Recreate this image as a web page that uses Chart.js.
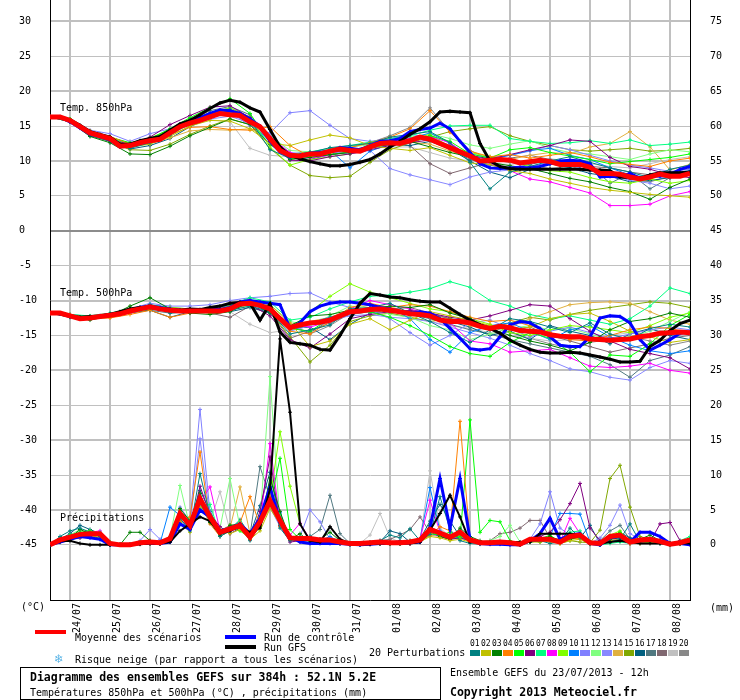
<!DOCTYPE html>
<html>
<head>
<meta charset="utf-8">
<script src="https://cdn.jsdelivr.net/npm/chart.js@4.4.1/dist/chart.umd.min.js"></script>
<style>
  body { margin: 0; background: #fff; }
  #wrap { position: relative; width: 740px; height: 700px; font-family: "DejaVu Sans Mono", monospace; font-size: 10px; color: #000; }
  #c { position: absolute; left: 0; top: 0; }
  .t { position: absolute; white-space: pre; line-height: 10px; }
  .b { font-weight: bold; font-size: 11.5px; line-height: 12px; }
  .bar { position: absolute; width: 31px; height: 4px; }
  .sw { position: absolute; width: 10px; height: 6px; top: 650px; }
  .num { position: absolute; top: 640px; font-size: 8px; line-height: 8px; }
  #box { position: absolute; left: 20px; top: 667px; width: 419px; height: 31px; border: 1px solid #000; }
</style>
</head>
<body>
<div id="wrap">
  <canvas id="c" width="740" height="700"></canvas>
  <div class="t" style="left:60px;top:103px">Temp. 850hPa</div>
  <div class="t" style="left:60px;top:288px">Temp. 500hPa</div>
  <div class="t" style="left:60px;top:513px">Précipitations</div>
  <div class="t" style="left:21px;top:602px">(°C)</div>
  <div class="t" style="left:710px;top:603px">(mm)</div>
  <div class="bar" style="left:35px;top:630px;background:#ff0000"></div>
  <div class="t" style="left:75px;top:633px">Moyenne des scénarios</div>
  <div class="bar" style="left:225px;top:635px;background:#0000ff"></div>
  <div class="t" style="left:264px;top:633px">Run de contrôle</div>
  <div class="bar" style="left:225px;top:645px;background:#000000"></div>
  <div class="t" style="left:264px;top:643px">Run GFS</div>
  <div class="t" style="left:55px;top:652px;font-size:13px;line-height:13px;color:#5ab4e6">❄</div>
  <div class="t" style="left:75px;top:655px">Risque neige (par rapport a tous les scénarios)</div>
  <div class="t" style="left:369px;top:648px">20 Perturbations</div>
  <div id="box"></div>
  <div class="t b" style="left:30px;top:671px">Diagramme des ensembles GEFS sur 384h : 52.1N 5.2E</div>
  <div class="t" style="left:30px;top:688px">Températures 850hPa et 500hPa (°C) , précipitations (mm)</div>
  <div class="t" style="left:450px;top:668px">Ensemble GEFS du 23/07/2013 - 12h</div>
  <div class="t b" style="left:450px;top:686px">Copyright 2013 Meteociel.fr</div>
</div>
<script>
// run of 23/07/2013 12h, one point every 6h up to 384h (65 points)
const DATES = ['24/07','25/07','26/07','27/07','28/07','29/07','30/07','31/07','01/08','02/08','03/08','04/08','05/08','06/08','07/08','08/08'];
const LEFT_TICKS = [30,25,20,15,10,5,0,-5,-10,-15,-20,-25,-30,-35,-40,-45];
const RIGHT_TICKS = [75,70,65,60,55,50,45,40,35,30,25,20,15,10,5,0];
const MEMBER_COLORS = ['#008080','#c0c000','#008000','#ff8000','#00ff00','#800080','#00ff80','#ff00ff','#80ff00','#0080ff',
                       '#8080ff','#80ff80','#8888ff','#e0b040','#80a800','#006080','#507880','#806870','#c0c0c0','#888888'];

// 850 hPa temperature, 6-hourly
const MEAN_850 = [16.3,16.3,15.8,14.9,14.0,13.6,13.2,12.1, 12.2,12.6,12.9,13.1,14.0,14.9,15.4,15.8, 16.3,16.8,16.6,16.5,15.6,14.9,13.2,11.5,
  10.8,10.7,11.0,11.0,11.4,11.7,11.5,11.4, 12.0,12.5,12.6,12.5,12.9,13.4,13.1,12.5, 11.9,11.3,10.7,10.0,10.1,10.2,10.1,9.7,
  9.9,10.1,9.9,9.5,9.5,9.5,9.1,8.2, 8.2,8.1,7.7,7.4,7.7,8.1,7.8,7.8, 8.2];
const CTRL_850 = [16.3,16.3,15.6,14.7,13.8,13.5,13.0,12.0, 12.3,12.8,13.0,13.2,14.2,15.0,15.6,16.2, 16.8,17.3,17.2,16.8,16.0,15.0,12.8,11.3,
  10.6,10.8,11.1,11.2,11.4,11.9,11.8,11.6, 12.2,12.8,12.9,13.2,14.2,14.5,14.7,15.4, 14.6,12.8,11.2,9.6,9.0,8.9,9.0,9.1,
  9.0,9.2,9.6,10.0,10.1,10.0,9.6,7.7, 7.8,7.7,8.2,7.5,7.9,7.8,8.0,8.8, 9.2];
const GFS_850 = [16.3,16.3,15.9,15.1,14.2,13.8,13.4,12.4, 12.4,12.9,13.2,13.5,14.4,15.3,15.8,16.6, 17.5,18.3,18.7,18.4,17.6,17.0,14.5,12.0,
  10.8,10.3,9.9,9.6,9.3,9.3,9.5,9.8, 10.2,11.0,12.0,12.8,13.8,14.6,15.6,17.0, 17.1,17.0,16.9,12.5,10.0,9.2,8.9,8.8,
  8.8,8.8,8.8,8.8,8.8,8.8,8.7,8.7, 8.6,7.7,7.6,7.5,8.0,8.3,8.3,8.3, 8.4];

// 500 hPa temperature, 6-hourly
const MEAN_500 = [-11.8,-11.8,-12.2,-12.6,-12.5,-12.3,-12.1,-11.9, -11.5,-11.2,-10.9,-11.2,-11.4,-11.5,-11.5,-11.5,
  -11.5,-11.5,-11.2,-10.5,-10.4,-10.7,-11.2,-12.6, -13.9,-13.5,-13.2,-13.1,-12.8,-12.2,-11.6,-11.5,
  -11.3,-11.2,-11.4,-11.6,-11.9,-12.0,-12.2,-12.8, -13.0,-13.0,-13.2,-13.7,-14.0,-13.7,-13.9,-14.3,
  -14.4,-14.5,-14.9,-15.1,-15.2,-15.2,-15.5,-15.6, -15.7,-15.6,-15.5,-15.2,-15.0,-14.7,-14.6,-14.5, -14.6];
const CTRL_500 = [-11.8,-11.9,-12.3,-12.6,-12.4,-12.2,-12.0,-11.8, -11.4,-11.0,-10.8,-11.0,-11.2,-11.4,-11.5,-11.4,
  -11.2,-11.3,-11.0,-10.2,-10.0,-10.2,-10.4,-10.6, -14.0,-13.2,-11.6,-10.8,-10.4,-10.2,-10.2,-10.4,
  -10.6,-11.0,-11.2,-11.6,-11.8,-11.6,-11.8,-12.6, -14.0,-15.4,-16.9,-17.1,-16.9,-15.2,-13.5,-13.0,
  -13.2,-14.0,-15.2,-16.4,-16.6,-16.6,-15.2,-12.5, -12.2,-12.3,-13.2,-15.6,-17.1,-16.4,-15.6,-14.7, -14.5];
const GFS_500 = [-11.8,-11.8,-12.2,-12.4,-12.3,-12.2,-12.0,-11.6, -11.2,-11.0,-11.0,-11.2,-11.3,-11.4,-11.2,-11.3,
  -11.0,-10.8,-10.4,-10.3,-10.4,-12.8,-10.5,-14.5, -16.0,-16.2,-16.4,-17.0,-17.1,-15.0,-12.6,-10.4,
  -9.0,-9.2,-9.5,-9.6,-9.9,-10.1,-10.2,-10.2, -11.1,-12.0,-12.8,-13.5,-14.0,-14.7,-15.7,-16.4,
  -17.0,-17.4,-17.5,-17.5,-17.4,-17.5,-17.8,-18.1, -18.4,-18.8,-18.8,-18.7,-16.6,-15.7,-14.3,-13.3, -12.8];

// precipitation (mm), 6-hourly
const MEAN_RR = [0,.7,1.1,1.5,1.6,1.6,.2,0, 0,.3,.4,.3,.9,4.5,2.8,6.6, 4,1.8,2.3,2.8,1.1,3.3,6.3,3.5, 1,.9,.9,.7,.7,.4,.2,.2,
  .3,.4,.3,.3,.4,.7,2.2,1.7, 1.1,1.8,.7,.3,.3,.4,.3,.1, .8,.8,.8,.4,1.2,1.4,.3,.2, 1.2,1.4,.4,.7,.8,.5,.1,.3, .7];
const CTRL_RR = [0,.4,.8,1.2,1,.8,0,0, 0,.2,.2,.2,.4,3,2.2,5, 4,2,2.4,3,1.6,3.8,8.3,3.2, 1.2,.4,.2,.2,.2,.2,.1,0,
  .1,.2,.2,.2,.3,.4,2.4,9.5, 2.4,9.5,.8,.2,.1,.1,0,0, .6,1.6,3.8,.8,1.4,1.6,.2,0, 1,1.2,.4,1.8,1.8,1.2,.2,.2, 0];
const GFS_RR = [0,.5,.6,.2,0,0,0,0, 0,.1,.2,.2,.4,2,3,4, 3.4,1.6,2,2.6,1.8,2.4,8,29.5, 19,3,.6,.4,2.6,.8,.2,.1,
  .1,.2,.2,.2,.2,.4,2.1,4.5, 7.1,4,.4,.4,.4,.4,.4,.4, .4,1.6,1.6,1.6,1.6,1.4,.4,.2, .4,.6,.4,.2,.2,.2,.2,.2, .2];

// 20 perturbations, 850 hPa, 12-hourly
const PERT_850 = [
  [16.3,15.7,13.8,13.0,11.8,12.6,13.7,15.4,16.8,17.4,15.9,11.6,10.4,11.2,11.9,12.2,12.5,13.4,13.8,14.2,12.6,9.8,6.0,8.4,9.2,10.0,10.6,9.8,9.0,8.4,7.6,8.8,9.4],
  [16.3,15.9,14.2,13.3,12.0,12.4,13.5,15.0,15.8,15.7,14.6,12.5,12.2,13.0,13.7,13.3,12.2,11.8,11.5,11.9,10.8,9.7,9.5,8.6,8.2,7.4,6.8,6.2,5.8,5.5,5.2,5.0,4.8],
  [16.3,15.6,13.5,12.6,11.0,10.9,12.1,13.6,14.8,16.0,15.2,12.4,10.2,10.5,10.9,11.2,11.8,12.4,12.8,12.0,11.2,10.6,9.8,9.3,8.9,8.2,7.5,7.0,6.2,5.6,4.5,6.2,7.4],
  [16.3,15.9,14.3,13.5,12.4,13.0,13.8,14.8,14.9,14.5,14.4,14.9,12.2,10.6,11.3,11.9,12.6,13.4,14.6,17.2,14.1,11.4,10.6,10.9,10.4,10.8,11.2,10.6,9.8,9.5,9.2,10.0,10.4],
  [16.3,16.0,14.1,13.4,12.6,13.2,14.6,16.2,17.6,18.9,16.8,12.6,10.3,10.7,10.9,11.3,12.0,12.4,12.8,13.6,12.8,11.0,10.4,11.6,11.9,11.2,10.7,10.2,9.6,9.9,10.2,10.5,11.0],
  [16.3,15.8,14.0,13.1,12.3,13.4,15.2,16.5,17.7,17.9,16.2,12.9,10.1,10.0,10.6,11.0,11.6,12.2,12.6,13.0,12.0,10.8,10.3,10.9,11.6,12.2,13.0,12.8,10.5,9.2,8.8,8.0,7.6],
  [16.3,15.9,14.2,13.3,12.4,13.1,14.2,15.6,16.6,17.2,15.6,12.4,10.9,11.3,11.8,12.2,12.7,13.2,13.6,14.4,15.0,15.1,15.1,13.2,12.8,12.5,12.6,12.9,12.5,13.0,12.2,12.4,12.7],
  [16.3,15.7,13.9,13.2,12.3,13.0,13.9,15.6,16.4,17.2,15.8,13.5,11.2,10.4,10.8,11.4,12.0,12.8,13.2,13.5,12.6,10.6,9.6,8.6,7.4,7.0,6.2,5.4,3.6,3.6,3.8,5.0,5.6],
  [16.3,16.0,14.2,13.4,12.5,13.3,14.4,15.8,16.8,17.6,16.2,12.0,9.4,10.2,10.6,11.0,11.9,12.5,13.0,13.8,12.0,11.2,10.6,10.0,9.2,8.6,8.4,7.6,7.0,6.8,7.4,6.8,7.2],
  [16.3,15.6,13.7,12.9,11.9,12.8,14.1,15.6,16.5,17.0,15.5,12.8,11.0,11.2,11.5,9.0,11.4,12.4,13.2,14.0,12.5,10.7,10.2,10.8,11.5,11.8,10.8,10.2,9.0,8.0,7.6,8.2,8.6],
  [16.3,16.0,14.4,13.9,12.8,13.9,14.6,15.8,16.6,17.0,15.0,14.0,16.9,17.2,15.1,13.2,12.8,13.2,13.8,13.4,12.2,11.0,10.5,10.8,11.4,12.2,11.6,10.8,10.0,9.4,9.0,8.5,8.8],
  [16.3,15.9,14.1,13.2,12.1,12.7,13.8,15.3,16.2,16.8,15.7,13.6,11.5,11.3,11.6,12.0,12.3,12.9,13.4,13.9,13.2,12.3,11.8,12.4,12.9,11.8,11.2,11.0,10.6,10.2,11.0,11.6,11.3],
  [16.3,15.8,14.0,13.3,12.2,12.6,13.9,15.2,16.0,16.4,15.4,13.0,11.2,11.0,11.3,11.0,11.5,8.9,8.0,7.3,6.6,7.7,8.4,8.7,9.2,9.8,9.4,8.6,8.0,7.2,6.8,6.0,6.4],
  [16.3,15.8,13.9,13.0,12.1,12.5,13.3,14.3,14.5,14.4,14.6,13.4,11.0,10.7,11.0,11.4,11.9,12.4,12.7,12.4,11.4,10.6,9.9,10.2,10.8,11.2,11.0,12.0,12.5,14.2,12.0,8.7,9.5],
  [16.3,15.7,13.8,12.8,11.6,11.5,12.4,13.8,15.0,16.0,15.2,11.8,9.4,7.9,7.6,7.8,9.8,11.6,12.6,13.4,14.2,14.6,14.9,13.6,12.8,12.2,11.6,11.4,11.6,11.8,11.4,11.5,11.8],
  [16.3,15.8,13.6,12.8,11.7,12.2,13.2,14.9,16.2,16.9,15.9,13.4,10.6,10.2,10.9,11.2,11.9,12.5,12.2,12.8,11.7,10.0,8.4,7.6,8.8,9.6,9.0,8.2,7.8,7.0,7.2,7.6,8.0],
  [16.3,15.9,13.9,13.0,12.0,12.7,14.2,15.9,17.2,17.8,16.6,12.9,10.5,10.8,11.2,11.5,12.1,12.9,13.2,13.6,11.8,10.2,9.4,8.9,9.5,10.1,9.8,9.4,6.8,8.2,6.0,7.6,8.5],
  [16.3,15.8,14.0,13.3,12.4,13.0,14.1,15.5,16.6,17.1,15.4,13.0,11.0,11.2,11.6,11.6,12.0,12.4,12.2,9.6,8.2,9.0,9.8,10.4,10.8,10.2,9.8,9.2,9.0,8.4,8.0,8.4,8.9],
  [16.3,15.6,13.7,12.9,12.0,12.6,13.6,15.0,15.9,15.6,11.8,10.8,10.6,10.9,11.3,11.5,11.8,12.0,12.0,11.2,10.4,10.0,9.6,9.5,9.8,10.3,10.0,9.6,9.2,9.0,9.6,10.2,10.6],
  [16.3,15.9,14.2,13.4,12.5,13.1,14.3,15.9,16.9,17.6,16.3,13.1,10.9,11.0,11.5,12.0,12.6,13.6,14.8,17.6,14.2,11.5,10.2,9.8,9.4,8.9,9.2,8.6,8.0,7.4,7.0,7.8,8.1]
];

// 20 perturbations, 500 hPa, 12-hourly
const PERT_500 = [
  [-11.8,-12.3,-12.6,-12.0,-11.3,-10.6,-11.8,-11.6,-11.0,-11.4,-10.8,-11.6,-14.8,-14.2,-13.5,-11.2,-11.0,-10.4,-11.8,-13.0,-14.6,-16.0,-14.2,-12.6,-13.0,-13.8,-14.6,-13.2,-14.8,-15.6,-14.0,-13.4,-13.8],
  [-11.8,-12.1,-12.4,-12.3,-11.7,-11.2,-11.0,-11.2,-11.6,-10.8,-10.0,-10.6,-13.2,-16.6,-15.8,-13.4,-12.6,-14.2,-12.8,-11.6,-12.2,-12.8,-13.6,-14.2,-13.8,-12.6,-12.0,-11.8,-13.0,-14.4,-15.2,-16.0,-15.6],
  [-11.8,-12.4,-12.8,-12.2,-10.8,-9.6,-11.2,-11.8,-12.0,-11.6,-10.2,-11.8,-13.6,-12.2,-12.0,-11.4,-11.2,-10.8,-11.0,-10.6,-11.8,-12.6,-14.0,-15.0,-15.8,-16.4,-17.2,-16.0,-14.2,-13.0,-12.6,-11.8,-12.4],
  [-11.8,-12.0,-12.6,-12.5,-12.0,-11.4,-12.4,-11.8,-11.2,-11.0,-10.2,-11.6,-14.4,-14.8,-13.0,-11.0,-10.4,-11.0,-10.6,-10.8,-11.6,-12.4,-13.0,-12.8,-13.6,-14.6,-15.6,-15.8,-15.0,-14.2,-13.8,-14.0,-14.6],
  [-11.8,-12.2,-12.4,-12.0,-11.6,-11.0,-11.2,-11.4,-11.8,-10.8,-10.0,-11.0,-14.0,-14.4,-12.6,-11.6,-11.6,-12.4,-13.6,-15.0,-16.6,-17.6,-18.0,-16.0,-14.6,-15.4,-17.4,-20.2,-17.8,-18.0,-16.2,-13.6,-12.0],
  [-11.8,-12.3,-12.5,-12.2,-11.4,-10.8,-11.6,-11.6,-11.4,-11.0,-10.6,-12.2,-15.6,-16.8,-14.8,-12.6,-12.0,-11.6,-11.4,-11.8,-12.4,-12.8,-12.2,-11.4,-10.6,-10.8,-12.6,-14.4,-15.8,-17.0,-17.6,-18.2,-19.8],
  [-11.8,-12.0,-12.2,-11.8,-11.2,-10.6,-11.0,-11.2,-11.2,-10.6,-9.6,-10.2,-12.8,-12.4,-11.2,-10.2,-9.4,-9.2,-8.8,-8.3,-7.3,-8.1,-10.0,-10.8,-12.0,-12.6,-12.2,-12.8,-13.4,-12.6,-10.8,-8.2,-9.0],
  [-11.8,-12.1,-12.5,-12.4,-11.8,-11.0,-11.4,-11.2,-11.6,-10.4,-9.8,-11.4,-13.4,-13.8,-13.0,-11.2,-10.0,-10.6,-11.2,-12.0,-13.2,-15.8,-16.2,-17.4,-17.2,-17.0,-18.2,-19.4,-19.6,-19.4,-19.0,-20.0,-20.4],
  [-11.8,-12.2,-12.3,-12.0,-11.6,-11.2,-11.4,-11.6,-11.6,-11.0,-10.2,-11.6,-14.2,-11.6,-9.4,-7.6,-8.8,-9.6,-10.4,-11.2,-11.6,-12.6,-13.4,-14.6,-15.0,-14.2,-13.6,-13.8,-14.2,-14.6,-13.6,-12.4,-11.8],
  [-11.8,-12.2,-12.6,-12.2,-11.6,-11.2,-11.6,-11.8,-11.4,-10.8,-10.6,-11.4,-13.8,-13.2,-12.4,-11.6,-11.2,-11.0,-12.6,-15.6,-17.4,-14.6,-13.6,-13.2,-14.4,-15.6,-14.2,-13.6,-15.2,-16.4,-17.2,-17.6,-17.2],
  [-11.8,-12.0,-12.3,-11.9,-11.2,-10.4,-10.8,-10.8,-10.6,-10.0,-9.6,-9.4,-9.0,-8.9,-10.2,-11.0,-11.4,-12.6,-14.6,-16.4,-15.0,-13.2,-12.8,-14.0,-15.2,-14.4,-13.8,-14.6,-15.4,-14.8,-14.2,-13.8,-14.2],
  [-11.8,-12.1,-12.4,-12.1,-11.5,-11.0,-11.5,-11.4,-11.4,-11.2,-10.8,-10.6,-13.0,-13.6,-12.2,-10.8,-11.0,-12.0,-12.4,-13.6,-14.2,-15.6,-14.8,-14.0,-13.6,-14.2,-14.0,-14.8,-15.6,-15.2,-14.4,-13.0,-11.6],
  [-11.8,-12.3,-12.6,-12.3,-11.6,-11.0,-11.3,-11.6,-11.2,-10.8,-10.4,-11.8,-14.4,-13.6,-12.8,-12.2,-12.0,-12.4,-12.6,-13.0,-13.8,-14.6,-15.4,-16.4,-17.6,-18.6,-19.8,-20.2,-21.0,-21.4,-19.6,-18.6,-19.0],
  [-11.8,-12.1,-12.6,-12.2,-11.5,-11.2,-11.6,-11.8,-11.6,-11.4,-10.6,-11.4,-13.4,-13.0,-12.4,-11.4,-10.6,-11.2,-11.8,-12.4,-12.8,-13.6,-14.2,-13.8,-12.6,-11.6,-10.6,-10.3,-10.2,-10.4,-11.6,-12.8,-13.4],
  [-11.8,-12.2,-12.5,-12.0,-11.4,-10.8,-11.2,-11.4,-11.6,-11.0,-10.4,-11.6,-15.2,-18.8,-16.4,-13.0,-12.2,-11.8,-12.4,-13.0,-12.6,-13.4,-14.0,-13.2,-12.4,-12.8,-12.0,-11.4,-11.0,-10.6,-10.2,-10.4,-11.0],
  [-11.8,-12.3,-12.4,-12.0,-11.6,-11.4,-12.4,-11.6,-11.4,-11.6,-11.0,-11.8,-14.0,-13.8,-15.6,-13.4,-11.8,-11.4,-11.6,-12.2,-13.0,-13.8,-15.0,-14.4,-15.6,-13.6,-14.4,-15.0,-16.2,-14.8,-14.0,-15.0,-15.6],
  [-11.8,-12.0,-12.3,-12.1,-11.8,-11.4,-11.8,-11.6,-11.0,-10.8,-10.4,-11.2,-13.6,-14.6,-12.8,-11.6,-11.2,-11.6,-12.0,-12.6,-13.4,-14.2,-14.8,-15.6,-16.2,-16.8,-17.4,-18.0,-19.2,-21.0,-18.6,-17.8,-16.6],
  [-11.8,-12.2,-12.5,-12.1,-11.4,-10.6,-11.0,-11.4,-11.8,-12.4,-10.8,-11.8,-15.4,-14.4,-13.2,-12.0,-11.6,-11.2,-11.0,-11.8,-12.6,-13.2,-13.6,-14.2,-13.8,-15.0,-15.8,-16.6,-17.4,-16.8,-16.2,-15.4,-15.0],
  [-11.8,-12.1,-12.4,-12.0,-11.4,-10.8,-11.2,-11.4,-11.4,-11.6,-13.4,-14.6,-14.2,-13.4,-12.6,-12.0,-11.6,-11.8,-12.4,-13.0,-13.6,-14.0,-14.6,-15.0,-15.4,-15.8,-15.6,-15.4,-15.0,-14.6,-14.2,-14.4,-14.8],
  [-11.8,-12.2,-12.6,-12.3,-11.6,-10.8,-11.4,-11.2,-11.2,-11.0,-10.2,-10.8,-13.6,-14.8,-13.6,-11.8,-11.0,-11.2,-11.6,-12.0,-12.6,-13.0,-13.8,-14.6,-15.4,-16.2,-16.8,-16.0,-15.6,-15.2,-15.8,-16.4,-15.8]
];

// 20 perturbations, precipitation (mm), 6-hourly
const PERT_RR = [
  [0,1.2,2,2.4,1.8,1.2,.2,0, 0,.2,.4,.2,.8,3.8,2,10.2, 4.2,1.2,2,2.6,.6,4,8.2,2.4, .6,.8,1.2,.6,.4,.2,0,.1, .2,.6,1.4,1,2.3,.6,1.5,6.9, 2.2,.6,.2,.1,.2,.3,.2,0, .4,.6,.2,.4,2.4,1,.1,0, .4,.8,3,.4,.6,.2,0,.4, .6],
  [0,.4,.8,1.2,1.4,1,0,0, 0,.2,.2,.2,.6,3.2,1.8,5.4, 3.6,2.2,1.6,2.2,.8,2,5.2,3, .8,.6,.6,.4,.6,.2,.1,.1, .2,.2,.1,.2,.3,.4,1.2,1, .6,.8,.4,.2,.1,.2,.2,0, .4,.4,.6,.2,.6,.8,.1,0, .6,.8,.2,.2,.4,.3,.2,.1, .2],
  [0,.6,1,2.2,1.6,.8,0,0, 1.8,1.8,.6,.2,.4,5.2,3.4,7.4, 3.2,1.4,2.8,3,.8,2.6,9.6,4.8, .8,1.6,.4,.8,1.8,.6,.2,0, .1,.2,.2,.4,.6,.4,2.8,1.2, .8,2.4,1.2,.6,.2,.4,.2,0, .6,.4,1.2,.6,.8,1.2,.2,0, .8,1,.6,.8,1.4,.6,0,.2, .8],
  [0,.6,1,1.2,1.8,1.4,.2,0, 0,.1,.2,.2,.8,3.4,4,13.3, 3,1.2,2,3.2,6.9,2.8,7.4,2.6, 1.2,.6,.6,.4,.6,.2,.2,.1, .2,.4,.2,.2,.2,.4,1.4,2.6, 2,17.7,.8,.4,.2,.3,.2,.1, .6,.8,.4,.2,1,.8,.2,.1, .8,1.2,.2,.4,.6,.6,.1,.2, .4],
  [0,.8,1.4,1.8,2,1.6,.4,0, 0,.4,.6,.4,1.2,5,2.4,6, 3.6,1.6,2.4,2,1,3.6,5.8,12.4, 2.2,.8,.6,.6,.4,.2,.2,.2, .3,.4,.2,.2,.3,.6,1.6,1.4, 1.8,1,17.9,1.8,3.5,3.3,.6,.2, .6,.8,1.4,.4,.8,1.6,.2,.1, 1,1.8,.4,.6,.6,.4,0,.2, .8],
  [0,.4,.8,1,1.2,1.4,0,0, 0,.2,.4,.2,.6,4.2,2.2,8.4, 4.4,2.6,1.6,2.4,.8,4.8,12.6,2.8, .4,.6,1,.8,.4,.2,0,.1, .1,.2,.4,.6,.2,.4,1.8,1.2, .8,1,.6,.2,.2,.2,.2,.1, .8,1.2,1.8,3.6,5.9,8.8,2.4,.6, .4,.6,.2,.4,.4,3,3.2,.6, .2],
  [0,.8,1.2,1.6,1.4,1.8,.2,0, 0,.4,.2,.4,1,4.8,3.6,5.2, 5.8,1.4,2.4,3.4,1.6,3.4,7.2,4.4, .8,1.2,.8,.4,.6,.4,.2,.1, .4,.2,.3,.2,.4,.6,2.4,1.6, .8,1.2,.6,.4,.3,.4,.2,0, .4,.6,.8,.6,1.8,2,.1,0, .2,.4,.2,.6,.8,.4,.2,.6, 1.2],
  [0,.6,1.2,1.4,1.8,2,.2,0, 0,.2,.6,.4,.6,3.2,2.2,6, 8.3,2,2.6,2.4,.8,3,14.5,3.4, 1.4,3.1,.8,.4,.6,.2,.2,.2, .3,.4,.2,.4,.2,.8,6.4,1.8, 1,2,.8,.2,.2,.4,.2,0, .6,.8,1,.4,3.8,1.6,.2,0, .6,.8,.2,.4,.6,.4,.1,.2, .6],
  [0,.6,1,1.4,1.6,1.2,.2,0, 0,.4,.2,.4,.6,4.6,3,7, 3.8,1.8,2.8,2.2,1.4,3.6,6.6,16.2, 8.4,3,.8,.6,.4,.4,.2,.1, .2,.3,.4,.2,.4,.6,2,1.6, 1.4,1.2,.6,.4,.2,.4,.2,0, .6,.6,.8,.4,.8,1,.2,0, 1.4,2,.4,.6,.8,.4,.2,.2, .6],
  [0,.8,1.4,1.6,1.8,1.6,.2,0, 0,.2,.4,.2,5.4,4.2,2.6,5.8, 3.4,1.2,2.2,3.2,1.2,3,7.8,4.6, .8,.6,.8,.6,1.2,.4,.2,.2, .2,.4,.2,.4,.2,.8,8.2,2, 1.2,1.6,.4,.2,.2,.4,.2,.1, .6,1,1.2,4.5,4.5,4.4,.4,.2, 1,1.4,.4,.8,.8,.4,.1,.4, .8],
  [0,.4,.8,1.2,1.4,1.4,.2,0, 0,.6,2.2,.8,.6,5.4,3.4,19.4, 4.6,1.6,2.6,2.8,1,3.8,5.4,2.6, .6,1.2,5,3.3,.8,.4,.2,.2, .2,.3,.4,.2,.4,.4,1.6,1.2, .8,1,.6,.2,.4,.3,.2,.1, .8,3,7.6,2.4,1.4,1.2,.2,0, .8,1.2,.2,.4,.6,.4,.1,.2, .4],
  [0,.8,1.4,2.2,2,1.4,.2,0, 0,.2,.4,.4,1,8.5,2.6,6.2, 3.4,2.4,9.5,2.6,1.4,3.4,24.1,3.2, .8,.6,.6,.4,.4,.2,.2,.2, .2,.4,.2,.3,.4,.6,1.8,1.4, 1,1.4,.6,.4,.6,1.2,2.8,.4, .6,.8,.6,.4,1,1.4,.2,.1, 1.2,1.4,.4,.6,.6,.4,.1,.2, .6],
  [0,.6,1.2,1.4,1.6,1.8,.2,0, 0,.4,.2,.2,.8,4.4,2.8,15.2, 3.8,1.6,2,2.6,1,3.2,6.4,3.8, 1.2,.6,1,.8,.6,.4,.2,.2, .4,.4,.3,.4,.4,.8,2.6,1.8, 1,1.6,.8,.4,.2,.4,.2,0, .6,.8,.6,.4,1.2,1.6,.2,1, 2.8,5.7,1.6,.8,.8,.6,.2,.4, .6],
  [0,.6,1,1.4,1.4,1.2,0,0, 0,.2,.2,.4,.8,3.8,3.6,5.6, 3.2,2.2,2.4,8.3,1.6,2.6,5.4,2.8, .8,.8,.6,.6,.8,.4,.2,.2, .2,.2,.4,.2,.2,.4,1.4,1.2, .8,1.4,.4,.2,.2,.2,.2,0, .4,.6,.8,.6,1,1.2,.2,0, 1,1.2,.2,.4,.6,.4,.2,.2, .4],
  [0,.6,.8,1.2,1.4,1.6,.2,0, 0,.2,.4,.4,.8,4,2.6,6.4, 4,1.6,2.4,2.6,.8,3,6,3.6, .8,1,.8,.6,.6,.4,.2,.2, .2,.2,.3,.2,.4,.6,1.6,1.4, .8,1.2,.6,.2,.2,.2,.2,0, .4,.6,.6,.2,.6,.4,.3,2.1, 9.5,11.4,5.4,1.2,.8,.6,.2,.2, .4],
  [0,.8,1.6,2.8,2.2,1.6,.2,0, 0,.4,.4,.2,.8,4.6,3.2,7.8, 4.8,2,2.2,3.6,1.4,5.6,10.4,3.2, .8,.6,.6,.6,.4,.4,.2,.1, .2,.4,2,1.6,.4,.8,3.4,5.8, 3.4,1.2,.6,.4,.4,.4,.2,.1, .6,.8,.6,.4,1.2,1,2.8,.2, .8,1.8,1,.6,.6,.4,.2,.2, .6],
  [0,.4,1,1.4,1.6,1.2,.2,0, 0,.2,.4,.2,.6,3.6,2.4,6.8, 3.6,1.6,2.2,2.6,1.4,11.2,6.8,3, 1,.8,1.2,2.2,7.1,1.6,.2,.2, .2,.2,.4,.2,.2,.6,2,1.4, 1.2,1.2,.6,.4,.2,.4,.2,0, .6,.8,.8,.4,1,1.2,.4,.6, 2,2.8,.8,.4,.6,.6,.2,.2, .4],
  [0,.6,1.2,1.6,1.4,1.4,.2,0, 0,.2,.2,.4,.6,4.2,2.8,6.2, 3.8,2,2.8,2.4,1.2,3.4,7,3.6, 1,.6,.8,.6,.6,.4,.2,.2, .4,.6,.8,1.4,2.2,4,1.8,1.4, 1,1.2,.6,.4,.6,1.6,1.8,2.4, 3.5,3.5,1,.8,1.4,1.2,.4,.2, .8,1.2,.4,.6,.6,.4,.2,.2, .4],
  [0,.4,.8,1,1.2,1,0,0, 0,.2,.2,.2,.6,3.6,2.2,5.6, 3.2,7.6,2,2.4,1,2.8,6.2,3.8, 1.2,.4,.6,.4,.4,.2,.2,.2, 1.4,4.5,1,.4,.4,.6,10.6,2.4, 1.2,1,.4,.2,.2,.2,.2,0, .4,.6,.8,.4,.8,1,.2,0, .6,.8,.2,.4,.4,.2,0,.2, .4],
  [0,.6,1.2,1.8,1.6,1.2,.2,0, 0,.2,.4,.2,.8,4,3.2,6.4, 4.2,1.8,2.6,3,1.2,3.8,7.6,3.4, .8,.8,.6,.6,.6,.4,.2,.2, .2,.4,.4,.2,.6,.8,2.6,1.8, 1.4,1.2,.8,.4,.4,.6,.4,.2, .6,.8,.8,.4,1,1.4,.4,.2, 1.2,1.6,.6,.8,.8,.4,.2,.4, .8]
];

// plot area spans 33.05 .. -52.9 (°C); right axis reads °C + 45, precipitation uses it directly
const Y_MIN = -52.9, Y_MAX = 33.05, RIGHT_SHIFT = 45;
const FONT = { family: "'DejaVu Sans Mono', monospace", size: 10 };

function pts(values, step) {
  return values.map((v, k) => ({ x: k * step, y: v }));
}

function line(values, step, axis, color, width, order, marker) {
  return {
    data: pts(values, step),
    yAxisID: axis,
    borderColor: color,
    backgroundColor: color,
    borderWidth: width,
    pointStyle: 'cross',
    pointRadius: marker,
    pointBorderWidth: 1,
    pointBorderColor: color,
    fill: false,
    tension: 0,
    order: order
  };
}

const datasets = [];
PERT_850.forEach((v, j) => datasets.push(line(v, 2, 'y', MEMBER_COLORS[j], 1, 3, 2)));
PERT_500.forEach((v, j) => datasets.push(line(v, 2, 'y', MEMBER_COLORS[j], 1, 3, 2)));
PERT_RR.forEach((v, j) => datasets.push(line(v, 1, 'y2', MEMBER_COLORS[j], 1, 3, 2)));
datasets.push(line(CTRL_850, 1, 'y', '#0000ff', 3, 2, 2));
datasets.push(line(CTRL_500, 1, 'y', '#0000ff', 3, 2, 2));
datasets.push(line(CTRL_RR, 1, 'y2', '#0000ff', 3, 2, 2));
datasets.push(line(GFS_850, 1, 'y', '#000000', 3, 1, 2));
datasets.push(line(GFS_500, 1, 'y', '#000000', 3, 1, 2));
datasets.push(line(GFS_RR, 1, 'y2', '#000000', 2, 1, 2));
datasets.push(line(MEAN_850, 1, 'y', '#ff0000', 5, 0, 0));
datasets.push(line(MEAN_500, 1, 'y', '#ff0000', 5, 0, 0));
datasets.push(line(MEAN_RR, 1, 'y2', '#ff0000', 5, 0, 0));

new Chart(document.getElementById('c'), {
  type: 'line',
  data: { datasets: datasets },
  options: {
    responsive: false,
    animation: false,
    devicePixelRatio: 1,
    layout: { autoPadding: false, padding: { left: 19, right: 0, top: 0, bottom: 0 } },
    plugins: { legend: { display: false }, tooltip: { enabled: false } },
    scales: {
      x: {
        type: 'linear', min: 0, max: 64,
        afterBuildTicks: s => { s.ticks = DATES.map((d, j) => ({ value: 2 + 4 * j })); },
        afterFit: s => { s.height = 100; s.paddingLeft = 0; s.paddingRight = 0; },
        ticks: { autoSkip: false, minRotation: 90, maxRotation: 90, padding: 3, labelOffset: 7, color: '#000', font: FONT,
                 callback: (v, i) => DATES[i] },
        grid: { color: '#c0c0c0', lineWidth: 2, drawTicks: false },
        border: { color: '#000', width: 1 }
      },
      y: {
        type: 'linear', position: 'left', min: Y_MIN, max: Y_MAX,
        afterBuildTicks: s => { s.ticks = LEFT_TICKS.map(v => ({ value: v })); },
        afterFit: s => { s.width = 31; s.paddingTop = 0; s.paddingBottom = 0; },
        ticks: { crossAlign: 'far', color: '#000', font: FONT, callback: v => String(v) },
        grid: {
          drawTicks: false,
          color: c => (c.tick && c.tick.value === 0) ? '#8c8c8c' : '#c0c0c0',
          lineWidth: c => (c.tick && c.tick.value % 10 === 0) ? 2 : 1
        },
        border: { color: '#000', width: 1 }
      },
      y2: {
        type: 'linear', position: 'right', min: Y_MIN + RIGHT_SHIFT, max: Y_MAX + RIGHT_SHIFT,
        afterBuildTicks: s => { s.ticks = RIGHT_TICKS.map(v => ({ value: v })); },
        afterFit: s => { s.width = 50; s.paddingTop = 0; s.paddingBottom = 0; },
        ticks: { padding: 20, color: '#000', font: FONT, callback: v => String(v) },
        grid: { display: false, drawTicks: false },
        border: { color: '#000', width: 1 }
      }
    }
  }
});

// perturbation colour key
const wrap = document.getElementById('wrap');
MEMBER_COLORS.forEach((col, j) => {
  const n = document.createElement('div');
  n.className = 'num';
  n.style.left = (470 + 11 * j) + 'px';
  n.textContent = String(j + 1).padStart(2, '0');
  wrap.appendChild(n);
  const s = document.createElement('div');
  s.className = 'sw';
  s.style.left = (470 + 11 * j) + 'px';
  s.style.background = col;
  wrap.appendChild(s);
});
</script>
</body>
</html>
